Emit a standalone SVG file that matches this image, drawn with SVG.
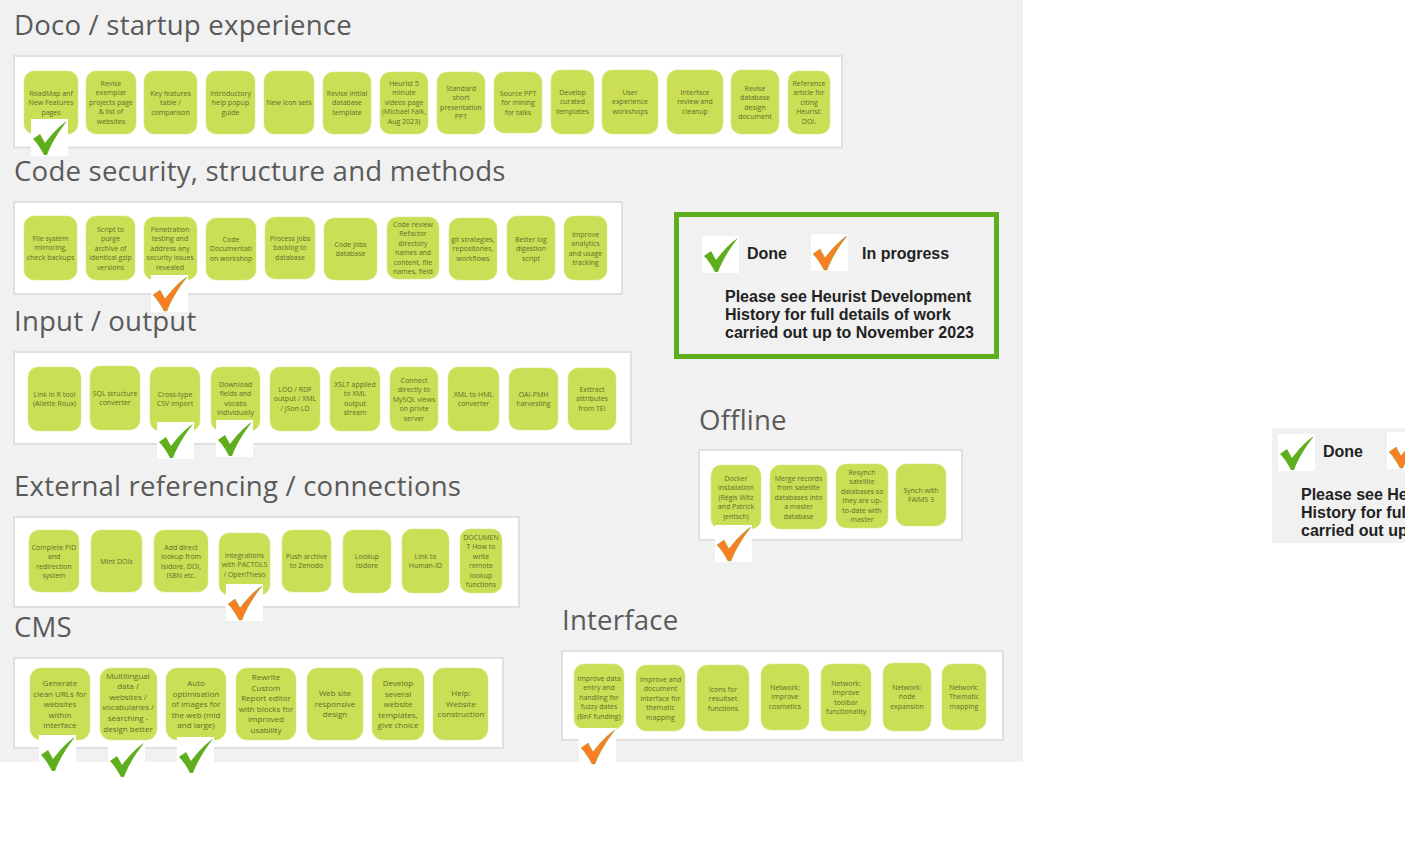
<svg xmlns="http://www.w3.org/2000/svg" xmlns:xlink="http://www.w3.org/1999/xlink" width="1405" height="851" viewBox="0 0 1405 851">
<style>
.bg{fill:#f1f1f1}
.panel{fill:#fff;stroke:#e0e0e0;stroke-width:2}
.title{font-family:"Open Sans","Liberation Sans",sans-serif;font-size:27.6px;fill:#5a5a5a;letter-spacing:.2px}
.n rect{fill:#cadf55;stroke:#d8e88a;stroke-width:.6}
.n text{font-family:"Open Sans","Liberation Sans",sans-serif;font-size:7px;fill:#616e2a;text-anchor:middle}
.n.big text{font-size:8px}
.leg{font-family:"Liberation Sans",Arial,sans-serif;font-size:16px;font-weight:700;fill:#222}
</style>
<defs>
<g id="box"><rect width="37" height="37" fill="#fff"/></g>
<path id="chk" d="M36,2C28,7 20,16 14,24L9,15C7,17 4,18 2,20C6,24 10,30 13,36L16,36C20,25 28,12 36,2Z"/>
<g id="green"><use href="#box"/><use href="#chk" fill="#5fae1e"/></g>
<g id="orange"><use href="#box"/><use href="#chk" fill="#fb7d24" stroke="#5fae1e" stroke-width=".4"/></g>
</defs>
<rect class="bg" width="1023" height="762"/>
<rect class="bg" x="1272" y="428" width="133" height="115"/>

<text class="title" x="14" y="35">Doco / startup experience</text>
<text class="title" x="14" y="181">Code security, structure and methods</text>
<text class="title" x="14" y="331">Input / output</text>
<text class="title" x="14" y="496">External referencing / connections</text>
<text class="title" x="14" y="637">CMS</text>
<text class="title" x="562" y="630">Interface</text>
<text class="title" x="699" y="430">Offline</text>

<rect class="panel" x="14" y="56" width="828" height="91.500"/>
<rect class="panel" x="14" y="202" width="608" height="92"/>
<rect class="panel" x="14" y="352" width="617" height="92"/>
<rect class="panel" x="14" y="517" width="505" height="90"/>
<rect class="panel" x="14" y="658" width="489" height="90"/>
<rect class="panel" x="562" y="651" width="441" height="89"/>
<rect class="panel" x="699" y="450" width="263" height="90"/>

<g id="doco">
<g id="d1" class="n"><rect x="24" y="71" width="54" height="63" rx="10"/><text y="96"><tspan x="51">RoadMap anf</tspan><tspan x="51" dy="9.4">New Features</tspan><tspan x="51" dy="9.4">pages</tspan></text></g>
<g id="d2" class="n"><rect x="86" y="71" width="50" height="63" rx="10"/><text y="86"><tspan x="111">Revise</tspan><tspan x="111" dy="9.4">exemplar</tspan><tspan x="111" dy="9.4">projects page</tspan><tspan x="111" dy="9.4">&amp; list of</tspan><tspan x="111" dy="9.4">websites</tspan></text></g>
<g id="d3" class="n"><rect x="144" y="71" width="53" height="63" rx="10"/><text y="96"><tspan x="170.500">Key features</tspan><tspan x="170.500" dy="9.4">table /</tspan><tspan x="170.500" dy="9.4">comparison</tspan></text></g>
<g id="d4" class="n"><rect x="206" y="71" width="49" height="63" rx="10"/><text y="96"><tspan x="230.500">Introductory</tspan><tspan x="230.500" dy="9.4">help popup</tspan><tspan x="230.500" dy="9.4">guide</tspan></text></g>
<g id="d5" class="n"><rect x="264" y="71" width="50" height="63" rx="10"/><text x="289" y="105">New Icon sets</text></g>
<g id="d6" class="n"><rect x="323" y="72" width="48" height="62" rx="10"/><text y="96"><tspan x="347">Revise initial</tspan><tspan x="347" dy="9.4">database</tspan><tspan x="347" dy="9.4">template</tspan></text></g>
<g id="d7" class="n"><rect x="380" y="72" width="48" height="62" rx="10"/><text y="86"><tspan x="404">Heurist 5</tspan><tspan x="404" dy="9.4">minute</tspan><tspan x="404" dy="9.4">videos page</tspan><tspan x="404" dy="9.4">(Michael Falk,</tspan><tspan x="404" dy="9.4">Aug 2023)</tspan></text></g>
<g id="d8" class="n"><rect x="437" y="72" width="48" height="62" rx="10"/><text y="91"><tspan x="461">Standard</tspan><tspan x="461" dy="9.4">short</tspan><tspan x="461" dy="9.4">presentation</tspan><tspan x="461" dy="9.4">PPT</tspan></text></g>
<g id="d9" class="n"><rect x="494" y="72" width="48" height="61" rx="10"/><text y="96"><tspan x="518">Source PPT</tspan><tspan x="518" dy="9.4">for mining</tspan><tspan x="518" dy="9.4">for talks</tspan></text></g>
<g id="d10" class="n"><rect x="551" y="70" width="43" height="64" rx="10"/><text y="95"><tspan x="572.500">Develop</tspan><tspan x="572.500" dy="9.4">curated</tspan><tspan x="572.500" dy="9.4">templates</tspan></text></g>
<g id="d11" class="n"><rect x="602" y="70" width="56" height="64" rx="10"/><text y="95"><tspan x="630">User</tspan><tspan x="630" dy="9.4">experience</tspan><tspan x="630" dy="9.4">workshops</tspan></text></g>
<g id="d12" class="n"><rect x="667" y="70" width="56" height="64" rx="10"/><text y="95"><tspan x="695">Interface</tspan><tspan x="695" dy="9.4">review and</tspan><tspan x="695" dy="9.4">cleanup</tspan></text></g>
<g id="d13" class="n"><rect x="731" y="70" width="48" height="64" rx="10"/><text y="91"><tspan x="755">Revise</tspan><tspan x="755" dy="9.4">database</tspan><tspan x="755" dy="9.4">design</tspan><tspan x="755" dy="9.4">document</tspan></text></g>
<g id="d14" class="n"><rect x="788" y="71" width="42" height="63" rx="10"/><text y="86"><tspan x="809">Reference</tspan><tspan x="809" dy="9.4">article for</tspan><tspan x="809" dy="9.4">citing</tspan><tspan x="809" dy="9.4">Heurist:</tspan><tspan x="809" dy="9.4">DOI.</tspan></text></g>
</g>

<g id="code">
<g id="c1" class="n"><rect x="24" y="216" width="53" height="64" rx="10"/><text y="241"><tspan x="50.500">File system</tspan><tspan x="50.500" dy="9.4">mirroring,</tspan><tspan x="50.500" dy="9.4">check backups</tspan></text></g>
<g id="c2" class="n"><rect x="86" y="216" width="49" height="64" rx="10"/><text y="232"><tspan x="110.500">Script to</tspan><tspan x="110.500" dy="9.4">purge</tspan><tspan x="110.500" dy="9.4">archive of</tspan><tspan x="110.500" dy="9.4">identical gzip</tspan><tspan x="110.500" dy="9.4">versions</tspan></text></g>
<g id="c3" class="n"><rect x="144" y="217" width="53" height="63" rx="10"/><text y="232"><tspan x="170">Penetration</tspan><tspan x="170" dy="9.4">testing and</tspan><tspan x="170" dy="9.4">address any</tspan><tspan x="170" dy="9.4">security issues</tspan><tspan x="170" dy="9.4">revealed</tspan></text></g>
<g id="c4" class="n"><rect x="206" y="218" width="50" height="62" rx="10"/><text y="242"><tspan x="231">Code</tspan><tspan x="231" dy="9.4">Documentati</tspan><tspan x="231" dy="9.4">on workshop</tspan></text></g>
<g id="c5" class="n"><rect x="265" y="217" width="50" height="62" rx="10"/><text y="241"><tspan x="290">Process jobs</tspan><tspan x="290" dy="9.4">backlog to</tspan><tspan x="290" dy="9.4">database</tspan></text></g>
<g id="c6" class="n"><rect x="324" y="218" width="53" height="62" rx="10"/><text y="247"><tspan x="350.500">Code jobs</tspan><tspan x="350.500" dy="9.4">database</tspan></text></g>
<g id="c7" class="n"><rect x="387" y="217" width="52" height="62" rx="10"/><text y="227"><tspan x="413">Code review</tspan><tspan x="413" dy="9.4">Refactor</tspan><tspan x="413" dy="9.4">directory</tspan><tspan x="413" dy="9.4">names and</tspan><tspan x="413" dy="9.4">content, file</tspan><tspan x="413" dy="9.4">names, field</tspan></text></g>
<g id="c8" class="n"><rect x="449" y="218" width="48" height="62" rx="10"/><text y="242"><tspan x="473">git strategies,</tspan><tspan x="473" dy="9.4">repositories,</tspan><tspan x="473" dy="9.4">workflows</tspan></text></g>
<g id="c9" class="n"><rect x="507" y="216" width="48" height="64" rx="10"/><text y="242"><tspan x="531">Better log</tspan><tspan x="531" dy="9.4">digestion</tspan><tspan x="531" dy="9.4">script</tspan></text></g>
<g id="c10" class="n"><rect x="564" y="216" width="43" height="64" rx="10"/><text y="237"><tspan x="585.500">Improve</tspan><tspan x="585.500" dy="9.4">analytics</tspan><tspan x="585.500" dy="9.4">and usage</tspan><tspan x="585.500" dy="9.4">tracking</tspan></text></g>
</g>

<g id="io">
<g id="i1" class="n"><rect x="28" y="367" width="53" height="64" rx="10"/><text y="397"><tspan x="54.500">Link in R tool</tspan><tspan x="54.500" dy="9.4">(Aliette Roux)</tspan></text></g>
<g id="i2" class="n"><rect x="90" y="366" width="50" height="64" rx="10"/><text y="396"><tspan x="115">SQL structure</tspan><tspan x="115" dy="9.4">converter</tspan></text></g>
<g id="i3" class="n"><rect x="150" y="367" width="50" height="64" rx="10"/><text y="397"><tspan x="175">Cross-type</tspan><tspan x="175" dy="9.4">CSV import</tspan></text></g>
<g id="i4" class="n"><rect x="211" y="367" width="49" height="64" rx="10"/><text y="387"><tspan x="235.500">Download</tspan><tspan x="235.500" dy="9.4">fields and</tspan><tspan x="235.500" dy="9.4">vocabs</tspan><tspan x="235.500" dy="9.4">individually</tspan></text></g>
<g id="i5" class="n"><rect x="270" y="367" width="50" height="64" rx="10"/><text y="392"><tspan x="295">LOD / RDF</tspan><tspan x="295" dy="9.4">output /  XML</tspan><tspan x="295" dy="9.4">/ JSon LD</tspan></text></g>
<g id="i6" class="n"><rect x="330" y="367" width="50" height="64" rx="10"/><text y="387"><tspan x="355">XSLT applied</tspan><tspan x="355" dy="9.4">to XML</tspan><tspan x="355" dy="9.4">output</tspan><tspan x="355" dy="9.4">stream</tspan></text></g>
<g id="i7" class="n"><rect x="390" y="367" width="48" height="64" rx="10"/><text y="383"><tspan x="414">Connect</tspan><tspan x="414" dy="9.4">directly to</tspan><tspan x="414" dy="9.4">MySQL views</tspan><tspan x="414" dy="9.4">on privte</tspan><tspan x="414" dy="9.4">server</tspan></text></g>
<g id="i8" class="n"><rect x="448" y="367" width="51" height="64" rx="10"/><text y="397"><tspan x="473.500">XML to HML</tspan><tspan x="473.500" dy="9.4">converter</tspan></text></g>
<g id="i9" class="n"><rect x="509" y="368" width="49" height="62" rx="10"/><text y="397"><tspan x="533.500">OAI-PMH</tspan><tspan x="533.500" dy="9.4">harvesting</tspan></text></g>
<g id="i10" class="n"><rect x="568" y="368" width="48" height="62" rx="10"/><text y="392"><tspan x="592">Exttract</tspan><tspan x="592" dy="9.4">attributes</tspan><tspan x="592" dy="9.4">from TEI</tspan></text></g>
</g>

<g id="external">
<g id="e1" class="n"><rect x="29" y="530" width="50" height="62" rx="10"/><text y="550"><tspan x="54">Complete PID</tspan><tspan x="54" dy="9.4">and</tspan><tspan x="54" dy="9.4">redirection</tspan><tspan x="54" dy="9.4">system</tspan></text></g>
<g id="e2" class="n"><rect x="91" y="530" width="51" height="62" rx="10"/><text x="116.500" y="564">Mint DOIs</text></g>
<g id="e3" class="n"><rect x="154" y="530" width="54" height="62" rx="10"/><text y="550"><tspan x="181">Add direct</tspan><tspan x="181" dy="9.4">lookup from</tspan><tspan x="181" dy="9.4">Isidore, DOI,</tspan><tspan x="181" dy="9.4">ISBN etc.</tspan></text></g>
<g id="e4" class="n"><rect x="219" y="533" width="51" height="62" rx="10"/><text y="558"><tspan x="244.500">Integrations</tspan><tspan x="244.500" dy="9.4">with PACTOLS</tspan><tspan x="244.500" dy="9.4">/ OpenTheso</tspan></text></g>
<g id="e5" class="n"><rect x="282" y="530" width="49" height="62" rx="10"/><text y="559"><tspan x="306.500">Push archive</tspan><tspan x="306.500" dy="9.4">to Zenodo</tspan></text></g>
<g id="e6" class="n"><rect x="343" y="530" width="48" height="63" rx="10"/><text y="559"><tspan x="367">Lookup</tspan><tspan x="367" dy="9.4">Isidore</tspan></text></g>
<g id="e7" class="n"><rect x="402" y="529" width="47" height="64" rx="10"/><text y="559"><tspan x="425.500">Link to</tspan><tspan x="425.500" dy="9.4">Human-ID</tspan></text></g>
<g id="e8" class="n"><rect x="460" y="529" width="42" height="64" rx="10"/><text y="540"><tspan x="481">DOCUMEN</tspan><tspan x="481" dy="9.4">T How to</tspan><tspan x="481" dy="9.4">write</tspan><tspan x="481" dy="9.4">remote</tspan><tspan x="481" dy="9.4">lookup</tspan><tspan x="481" dy="9.4">functions</tspan></text></g>
</g>

<g id="cms">
<g id="m1" class="n big"><rect x="30" y="668" width="60" height="72" rx="11"/><text y="686"><tspan x="60">Generate</tspan><tspan x="60" dy="10.600">clean URLs for</tspan><tspan x="60" dy="10.600">websites</tspan><tspan x="60" dy="10.600">within</tspan><tspan x="60" dy="10.600">interface</tspan></text></g>
<g id="m2" class="n big"><rect x="100" y="668" width="57" height="72" rx="11"/><text y="678.500"><tspan x="128">Multilingual</tspan><tspan x="128" dy="10.600">data /</tspan><tspan x="128" dy="10.600">websites /</tspan><tspan x="128" dy="10.600">vocabularies /</tspan><tspan x="128" dy="10.600">searching -</tspan><tspan x="128" dy="10.600">design better</tspan></text></g>
<g id="m3" class="n big"><rect x="166" y="668" width="60" height="72" rx="11"/><text y="686"><tspan x="196">Auto</tspan><tspan x="196" dy="10.600">optimisation</tspan><tspan x="196" dy="10.600">of images for</tspan><tspan x="196" dy="10.600">the web (mid</tspan><tspan x="196" dy="10.600">and large)</tspan></text></g>
<g id="m4" class="n big"><rect x="236" y="668" width="60" height="72" rx="11"/><text y="680"><tspan x="266">Rewrite</tspan><tspan x="266" dy="10.600">Custom</tspan><tspan x="266" dy="10.600">Report editor</tspan><tspan x="266" dy="10.600">with blocks for</tspan><tspan x="266" dy="10.600">improved</tspan><tspan x="266" dy="10.600">usability</tspan></text></g>
<g id="m5" class="n big"><rect x="307" y="668" width="56" height="72" rx="11"/><text y="696"><tspan x="335">Web site</tspan><tspan x="335" dy="10.600">responsive</tspan><tspan x="335" dy="10.600">design</tspan></text></g>
<g id="m6" class="n big"><rect x="372" y="668" width="52" height="72" rx="11"/><text y="686"><tspan x="398">Develop</tspan><tspan x="398" dy="10.600">several</tspan><tspan x="398" dy="10.600">website</tspan><tspan x="398" dy="10.600">templates,</tspan><tspan x="398" dy="10.600">give choice</tspan></text></g>
<g id="m7" class="n big"><rect x="433" y="668" width="55" height="72" rx="11"/><text y="696"><tspan x="461">Help:</tspan><tspan x="461" dy="10.600">Website</tspan><tspan x="461" dy="10.600">construction</tspan></text></g>
</g>

<g id="interface">
<g id="f1" class="n"><rect x="574" y="664" width="50" height="65" rx="10"/><text y="681"><tspan x="599">Improve data</tspan><tspan x="599" dy="9.4">entry and</tspan><tspan x="599" dy="9.4">handling for</tspan><tspan x="599" dy="9.4">fuzzy dates</tspan><tspan x="599" dy="9.4">(BnF funding)</tspan></text></g>
<g id="f2" class="n"><rect x="636" y="665" width="49" height="66" rx="10"/><text y="682"><tspan x="660.500">Improve and</tspan><tspan x="660.500" dy="9.4">document</tspan><tspan x="660.500" dy="9.4">interface for</tspan><tspan x="660.500" dy="9.4">thematic</tspan><tspan x="660.500" dy="9.4">mapping</tspan></text></g>
<g id="f3" class="n"><rect x="697" y="665" width="52" height="66" rx="10"/><text y="692"><tspan x="723">Icons for</tspan><tspan x="723" dy="9.4">resultset</tspan><tspan x="723" dy="9.4">functions</tspan></text></g>
<g id="f4" class="n"><rect x="761" y="664" width="48" height="66" rx="10"/><text y="690"><tspan x="785">Network:</tspan><tspan x="785" dy="9.4">improve</tspan><tspan x="785" dy="9.4">cosmetics</tspan></text></g>
<g id="f5" class="n"><rect x="821" y="664" width="50" height="67" rx="10"/><text y="686"><tspan x="846">Network:</tspan><tspan x="846" dy="9.4">improve</tspan><tspan x="846" dy="9.4">toolbar</tspan><tspan x="846" dy="9.4">functionality</tspan></text></g>
<g id="f6" class="n"><rect x="883" y="663" width="48" height="68" rx="10"/><text y="690"><tspan x="907">Network:</tspan><tspan x="907" dy="9.4">node</tspan><tspan x="907" dy="9.4">expansion</tspan></text></g>
<g id="f7" class="n"><rect x="942" y="664" width="44" height="66" rx="10"/><text y="690"><tspan x="964">Network:</tspan><tspan x="964" dy="9.4">Thematic</tspan><tspan x="964" dy="9.4">mapping</tspan></text></g>
</g>

<g id="offline">
<g id="o1" class="n"><rect x="711" y="465" width="50" height="64" rx="10"/><text y="481"><tspan x="736">Docker</tspan><tspan x="736" dy="9.4">installation</tspan><tspan x="736" dy="9.4">(Régis Witz</tspan><tspan x="736" dy="9.4">and Patrick</tspan><tspan x="736" dy="9.4">Jentsch)</tspan></text></g>
<g id="o2" class="n"><rect x="770" y="465" width="57" height="64" rx="10"/><text y="481"><tspan x="798.500">Merge records</tspan><tspan x="798.500" dy="9.4">from satellite</tspan><tspan x="798.500" dy="9.4">databases into</tspan><tspan x="798.500" dy="9.4">a master</tspan><tspan x="798.500" dy="9.4">database</tspan></text></g>
<g id="o3" class="n"><rect x="836" y="464" width="52" height="64" rx="10"/><text y="475"><tspan x="862">Resynch</tspan><tspan x="862" dy="9.4">satellite</tspan><tspan x="862" dy="9.4">databases so</tspan><tspan x="862" dy="9.4">they are up-</tspan><tspan x="862" dy="9.4">to-date with</tspan><tspan x="862" dy="9.4">master</tspan></text></g>
<g id="o4" class="n"><rect x="896" y="464" width="50" height="62" rx="10"/><text y="493"><tspan x="921">Synch with</tspan><tspan x="921" dy="9.4">FAIMS 3</tspan></text></g>
</g>

<g id="marks">
<use href="#green" x="31" y="119"/>
<use href="#orange" x="151" y="275"/>
<use href="#green" x="157" y="422"/>
<use href="#green" x="216" y="420"/>
<use href="#orange" x="226" y="584"/>
<use href="#green" x="39" y="735"/>
<use href="#green" x="108" y="741"/>
<use href="#green" x="177" y="737"/>
<use href="#orange" x="579" y="728"/>
<use href="#orange" x="715" y="525"/>
</g>

<g id="legend">
<rect x="676.500" y="214.500" width="320" height="142" fill="none" stroke="#5fae1e" stroke-width="5"/>
<use href="#green" x="702" y="236"/>
<use href="#orange" x="811" y="234"/>
<text class="leg" x="747" y="259">Done</text>
<text class="leg" x="862" y="259">In progress</text>
<text class="leg" x="725" y="302">Please see Heurist Development</text>
<text class="leg" x="725" y="319.500">History for full details of work</text>
<text class="leg" x="725" y="338">carried out up to November 2023</text>
</g>

<g id="legend-copy">
<use href="#green" x="1278" y="434"/>
<use href="#orange" x="1387" y="432"/>
<text class="leg" x="1323" y="457">Done</text>
<text class="leg" x="1301" y="500">Please see He</text>
<text class="leg" x="1301" y="517.500">History for ful</text>
<text class="leg" x="1301" y="536">carried out up</text>
</g>
</svg>
